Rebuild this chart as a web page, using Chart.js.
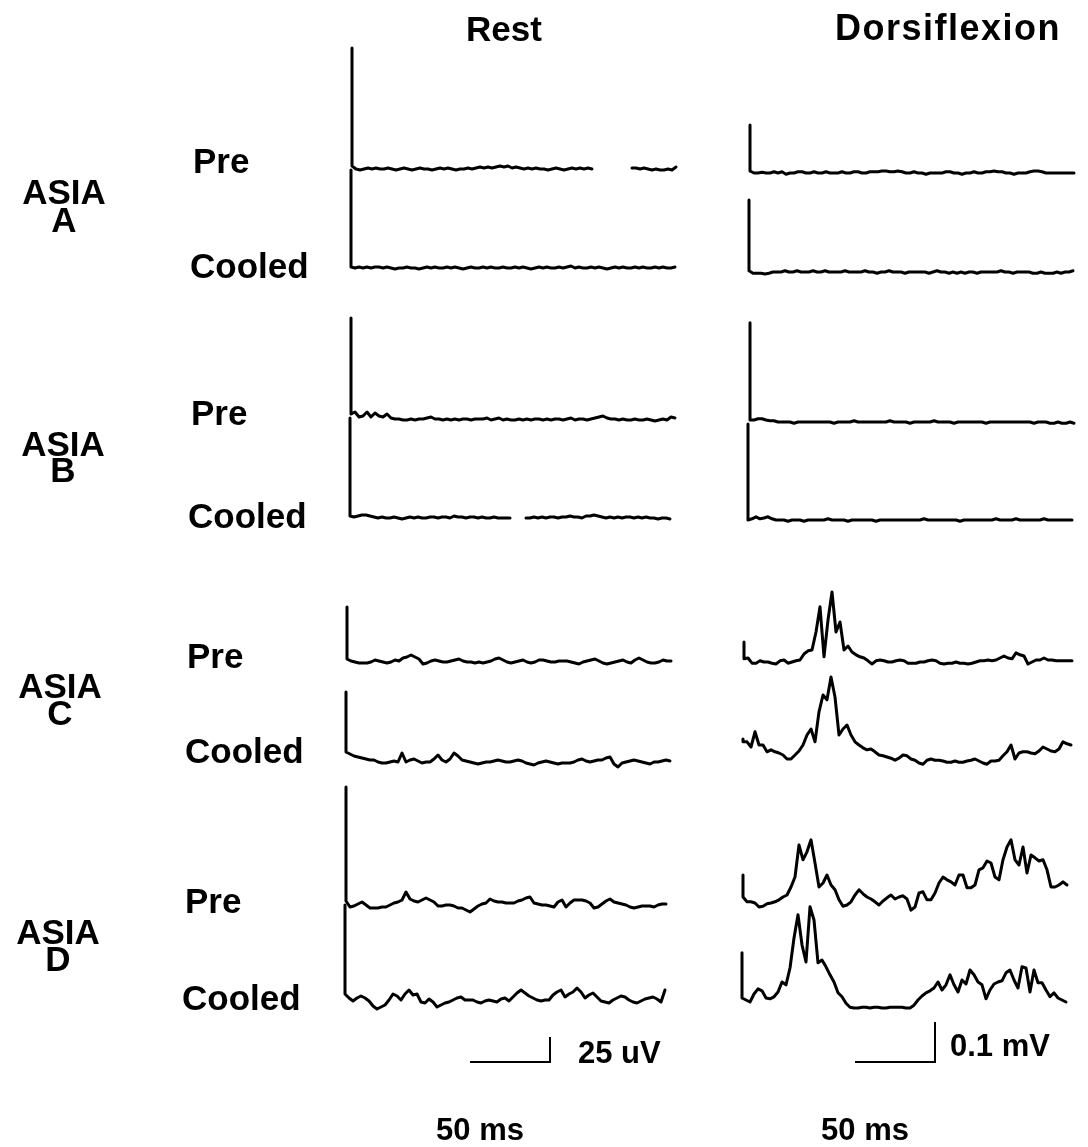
<!DOCTYPE html>
<html>
<head>
<meta charset="utf-8">
<script src="https://cdn.jsdelivr.net/npm/chart.js@4.4.1/dist/chart.umd.min.js"></script>
<style>
  html, body { margin: 0; padding: 0; background: #fff; }
  #wrap { position: relative; width: 1088px; height: 1147px; overflow: hidden; }
  #chart { position: absolute; left: 0; top: 0; }
  .lb { position: absolute; font-family: "Liberation Sans", Arial, sans-serif; font-size: 35px; font-weight: bold;
        line-height: 1; color: #000; white-space: nowrap; transform: translate(0, -50%); }
  .c { transform: translate(-50%, -50%); text-align: center; }
</style>
</head>
<body>
<div id="wrap">
  <canvas id="chart" width="1088" height="1147"></canvas>

  <div class="lb c" style="left:504px;top:28px">Rest</div>
  <div class="lb c" style="left:948px;top:28px;font-size:36px;letter-spacing:1.5px">Dorsiflexion</div>

  <div class="lb c" style="left:64px;top:191px">ASIA</div>
  <div class="lb c" style="left:64px;top:219px">A</div>
  <div class="lb c" style="left:63px;top:443px">ASIA</div>
  <div class="lb c" style="left:63px;top:469px">B</div>
  <div class="lb c" style="left:60px;top:685px">ASIA</div>
  <div class="lb c" style="left:60px;top:712px">C</div>
  <div class="lb c" style="left:58px;top:931px">ASIA</div>
  <div class="lb c" style="left:58px;top:958px">D</div>

  <div class="lb" style="left:193px;top:160px">Pre</div>
  <div class="lb" style="left:190px;top:265px">Cooled</div>
  <div class="lb" style="left:191px;top:412px">Pre</div>
  <div class="lb" style="left:188px;top:515px">Cooled</div>
  <div class="lb" style="left:187px;top:655px">Pre</div>
  <div class="lb" style="left:185px;top:750px">Cooled</div>
  <div class="lb" style="left:185px;top:900px">Pre</div>
  <div class="lb" style="left:182px;top:997px">Cooled</div>

  <div class="lb" style="left:578px;top:1052px;font-size:31px">25 uV</div>
  <div class="lb c" style="left:480px;top:1129px;font-size:31px">50 ms</div>
  <div class="lb" style="left:950px;top:1045px;font-size:31px">0.1 mV</div>
  <div class="lb c" style="left:865px;top:1129px;font-size:31px">50 ms</div>
</div>

<script>
// ===== sweep data (uV, up = positive) =====
// first value = stimulus artifact peak at onset, then one value every 2.5 ms
const dt = 2.5;

// Rest column (25 uV scale)
const restAPre = [121, 3, 0, -1, 0, 1, 0, 1, 0, 0,
  1, 0, -1, 0, 1, 0, -1, 0, 1, 0, 0, -1, 0, 1, 0, 1, 0, -1, 0, 0,
  1, 0, 1, 2, 1, 2, 1, 2, 3, 2, 3, 1, 2, 1, 0, 1, 0, 1, 0, 0,
  -1, 0, 1, 0, -1, 0, 1, 0, 1, 0, 1, 0, null, null, null, null, null, null, null, null,
  null, 1, 1, 0, 1, 0, -1, 0, -1, -1, 0, -1, 2];
const restACooled = [98, 1, 0, 1, 0, 1, 0, 1, 1, 0,
  1, 0, -1, 0, 0, 1, 0, 0, -1, 0, 1, 0, 1, 0, 0, 1, 0, 1, 0, -1,
  0, 1, 0, 0, 1, 0, 1, 0, 0, 1, 0, 0, 1, 0, 1, 0, -1, 0, 1, 0,
  1, 0, 0, 1, 0, 1, 2, 0, 1, 0, 0, 1, 0, 1, 0, -1, 0, 1, 0, 1,
  0, 0, 1, 0, 1, 0, 0, 1, 0, 1, 0, 0, 1];
const restBPre = [102, 6, 8, 3, 4, 8, 3, 7, 4, 3,
  6, 2, 1, 1, 0, 0, 1, 0, 1, 1, 2, 3, 1, 1, 0, 1, 0, 1, 0, 1,
  1, 0, 1, 1, 1, 2, 0, 1, 2, 0, 1, 0, 0, 1, 0, 1, 0, 1, 1, 0,
  1, 0, 1, 1, 0, 1, 2, 0, 1, 1, 0, 1, 2, 3, 4, 2, 1, 1, 0, 1,
  0, 0, 1, 0, 0, 1, 0, -1, 0, 1, 0, 3, 2];
const restBCooled = [100, 2, 1, 2, 3, 3, 2, 1, 0, 1,
  0, 0, 1, 0, -1, 0, 1, 0, 1, 0, 0, 1, 1, 0, 1, 1, 0, 2, 1, 1,
  0, 1, 1, 0, 1, 0, 0, 1, 0, 0, 0, 0, null, null, null, 0, 0, 1, 0, 1,
  0, 1, 1, 0, 1, 1, 2, 1, 1, 0, 2, 2, 3, 2, 1, 0, 1, 0, 1, 0,
  1, 1, 0, 1, 0, 1, 0, 0, -1, 0, 0, -1];
const restCPre = [55, 3, 1, 0, -1, -1, -1, 0, 2, 1,
  0, -1, 0, 2, 1, 4, 5, 7, 5, 3, -2, -1, 1, 2, 1, 0, 0, 1, 2, 3,
  1, 0, 0, -1, 0, -1, 0, 1, 3, 4, 2, 0, -1, 0, 1, 2, 0, -1, 0, 2,
  2, 1, 0, 0, 1, 1, 1, 0, -1, -2, 0, 1, 2, 3, 1, -1, -2, -1, 0, 1,
  2, 0, -1, 2, 4, 2, 0, -1, -1, 0, 2, 1, 1];
const restCCooled = [70, 10, 8, 6, 5, 4, 3, 2, 2, 0,
  -1, -1, 0, 1, 0, 9, 0, 2, 3, 1, -1, 0, 0, 3, 7, 2, 0, 3, 9, 6,
  2, 1, 0, -1, -2, -1, 0, 0, 1, 2, 1, 0, 0, 1, 2, 1, -1, -2, -3, -1,
  0, 1, 0, -1, -2, -1, -1, -1, 0, 2, 3, 1, 0, 1, 2, 2, 4, 5, -2, -5,
  -1, 0, 1, 2, 1, 0, -1, -2, 0, 0, 1, 2, 1];
const restDPre = [118, 4, -2, -1, 1, 3, 0, -3, -3, -3,
  -2, -2, 0, 2, 3, 5, 13, 6, 4, 3, 5, 7, 5, 3, -1, -1, 0, 0, -1, -3,
  -3, -5, -7, -4, -1, 1, 2, 6, 4, 3, 3, 2, 2, 2, 4, 5, 7, 8, 2, 1,
  0, 0, -1, -2, 3, 5, -2, 2, 5, 5, 5, 4, 2, -3, -2, 1, 4, 6, 3, 2,
  1, 0, -2, -3, -2, -1, -1, -1, -2, 0, 1, 1];
const restDCooled = [95, 6, 2, -1, 2, 4, 2, -1, -6, -9,
  -7, -5, 0, 6, 4, 0, 6, 10, 5, 6, -2, -3, 1, -2, -7, -5, -3, -2, 0, 2,
  3, 0, 0, 0, -2, -3, -1, 0, -1, -2, 1, 2, -1, 3, 7, 10, 7, 4, 2, 0,
  -1, 0, 0, 5, 8, 10, 3, 6, 8, 12, 8, 2, 5, 7, 3, -1, -2, -3, 0, 2,
  4, 3, 0, -2, -3, -1, 1, 2, 3, 1, -2, 10];

// Dorsiflexion column (0.1 mV scale)
const dorsAPre = [120, 5, 0, 0, 2, 0, 0, 3, 0, 3,
  -3, 0, 0, 3, 3, 0, 0, 3, 0, 0, 3, 0, 0, 0, 3, 0, 0, 3, 3, 0,
  0, 3, 3, 3, 5, 5, 3, 3, 5, 3, 0, 0, 3, 0, 0, -3, 0, 0, 0, 0,
  3, 3, 0, 0, -3, 0, 0, 3, 0, 0, 3, 3, 5, 3, 3, 0, 0, -3, 0, 0,
  0, 3, 5, 5, 3, 0, 0, 0, 0, 0, 0, 0, 0];
const dorsACooled = [180, 3, -3, -3, -3, -5, -3, 0, 0, 0,
  3, 0, 0, 3, 0, 0, 0, 3, 0, 0, 3, 0, 0, 0, 0, 3, 0, 0, 0, 0,
  3, 0, 0, -3, 0, 0, 3, 0, 0, 0, -3, 0, 0, 0, 0, 0, -3, 0, 3, 0,
  0, -3, 0, -3, 0, -3, 0, 0, -3, 0, 0, 0, 0, 0, 3, 0, 0, -3, 0, 0,
  0, 0, -3, -3, 0, -3, -3, -3, 0, -3, 0, 0, 3];
const dorsBPre = [248, 5, 5, 8, 8, 5, 3, 3, 0, 0,
  0, 0, -3, 0, 0, 0, 0, 0, 0, 0, 0, 0, -3, 0, 0, 0, 0, 3, 0, 0,
  0, 0, 0, 0, 0, 0, 3, 0, 0, 0, 0, -3, 0, 0, 0, 0, 0, 3, 0, 0,
  0, 0, -3, 0, 0, 0, 0, 0, 0, 0, -3, 0, 0, 0, 0, 0, 0, 0, 0, 0,
  0, 0, -3, 0, 0, 0, -3, -3, 0, -3, -3, 0, -3];
const dorsBCooled = [240, 0, 3, 8, 3, 5, 8, 3, 0, 0,
  0, -3, 0, 0, 0, -3, 0, 0, 0, 0, 0, 3, 0, 0, 0, 0, -3, 0, 0, 0,
  0, 0, 0, -3, 0, 0, 0, 0, 0, 0, 0, 0, 0, 0, 0, 3, 0, 0, 0, 0,
  0, 0, 0, 0, -3, 0, 0, 0, 0, 0, 0, 0, 0, 3, 0, 0, 0, 0, 3, 0,
  0, 0, 0, 0, 0, 3, 0, 0, 0, 0, 0, 0, 0];
const dorsCPre = [50, 8, 10, -3, -3, 3, 0, 0, -3, -5,
  3, 5, -3, 0, 3, 5, 20, 28, 30, 75, 138, 13, 105, 175, 75, 100, 30, 40, 25, 18,
  13, 10, 3, -5, 3, 5, 3, 0, 0, 3, 5, 3, -3, -3, -3, 0, 0, 3, 5, 3,
  -3, -5, -3, -3, 0, -3, -3, -5, -3, 0, 3, 3, 5, 3, 5, 10, 15, 10, 8, 23,
  18, 15, -5, 0, 5, 5, 10, 5, 5, 3, 3, 3, 3, 3];
const dorsCCooled = [45, 38, 38, 25, 63, 30, 30, 13, 18, 13,
  10, 5, -5, -5, 5, 15, 30, 55, 70, 38, 113, 155, 143, 200, 150, 55, 70, 80, 55, 38,
  30, 23, 18, 20, 13, 5, 3, 0, -3, -8, -3, 5, 3, -5, -8, -15, -18, -8, -5, -8,
  -8, -10, -13, -13, -10, -13, -13, -10, -8, -5, -10, -15, -18, -10, -10, -8, 3, 13, 30, -5,
  10, 13, 13, 10, 8, 15, 25, 20, 15, 13, 20, 38, 33, 30];
const dorsDPre = [75, 20, 8, 8, 5, -5, -3, 3, 5, 8,
  13, 20, 25, 45, 70, 150, 113, 133, 163, 105, 45, 55, 75, 50, 38, 13, -3, 0, 8, 25,
  38, 28, 20, 15, 8, 0, 10, 18, 25, 15, 20, 23, 15, -13, -5, 30, 33, 13, 13, 30,
  55, 70, 63, 58, 50, 75, 75, 43, 43, 50, 88, 93, 110, 105, 70, 63, 113, 145, 163, 113,
  100, 145, 80, 125, 118, 110, 113, 88, 45, 45, 50, 58, 50];
const dorsDCooled = [118, 5, 0, -5, 15, 28, 23, 5, 3, 8,
  20, 45, 38, 80, 155, 213, 138, 95, 233, 200, 93, 100, 83, 63, 45, 18, 8, -8, -18, -20,
  -20, -18, -18, -20, -18, -18, -20, -20, -18, -18, -18, -18, -20, -20, -13, 0, 10, 18, 23, 30,
  45, 25, 38, 63, 38, 20, 50, 40, 75, 63, 45, 38, 3, 25, 40, 45, 48, 68, 75, 50,
  30, 83, 80, 20, 75, 43, 43, 25, 8, 18, 5, 0, -5];

// calibration bars
const barTime = 50;       // ms
const barRest = 25;       // uV
const barDors = 100;      // uV (0.1 mV)

// ===== layout (page pixels) =====
const W = 1088, H = 1147;
const pxPerMs = 1.6;
const restPxPerUV = 1.0;
const dorsPxPerUV = 0.4;
const restColPx = 349, dorsColPx = 747;

// start = onset x, base = baseline y
const traces = [
  { data: restAPre, col: "rest", start: 352, base: 169 },
  { data: restACooled, col: "rest", start: 351, base: 268 },
  { data: restBPre, col: "rest", start: 351, base: 420 },
  { data: restBCooled, col: "rest", start: 350, base: 518 },
  { data: restCPre, col: "rest", start: 347, base: 662 },
  { data: restCCooled, col: "rest", start: 346, base: 762 },
  { data: restDPre, col: "rest", start: 346, base: 905 },
  { data: restDCooled, col: "rest", start: 345, base: 1000 },
  { data: dorsAPre, col: "dors", start: 750, base: 173 },
  { data: dorsACooled, col: "dors", start: 749, base: 272 },
  { data: dorsBPre, col: "dors", start: 750, base: 422 },
  { data: dorsBCooled, col: "dors", start: 748, base: 520 },
  { data: dorsCPre, col: "dors", start: 744, base: 662 },
  { data: dorsCCooled, col: "dors", start: 743, base: 757 },
  { data: dorsDPre, col: "dors", start: 743, base: 905 },
  { data: dorsDCooled, col: "dors", start: 742, base: 1000 },
];

function gain(col) { return col === "rest" ? restPxPerUV : dorsPxPerUV; }
function colPx(col) { return col === "rest" ? restColPx : dorsColPx; }

const datasets = traces.map((tr) => {
  const yOff = -tr.base / gain(tr.col);
  const tOff = (tr.start - colPx(tr.col)) / pxPerMs;
  return {
    data: tr.data.map((v, i) => ({
      x: tOff + (i === 0 ? 0 : (i - 1) * dt),
      y: v === null ? null : yOff + v,
    })),
    xAxisID: tr.col === "rest" ? "xRest" : "xDors",
    yAxisID: tr.col === "rest" ? "yRest" : "yDors",
    borderColor: "#000", borderWidth: 3, pointRadius: 0, tension: 0,
    spanGaps: false, borderJoinStyle: "round", borderCapStyle: "round",
  };
});

// scale bars
function bar(col, startPx, basePx, amp) {
  const t0 = (startPx - colPx(col)) / pxPerMs;
  const y0 = -basePx / gain(col);
  return {
    data: [{ x: t0, y: y0 }, { x: t0 + barTime, y: y0 }, { x: t0 + barTime, y: y0 + amp }],
    xAxisID: col === "rest" ? "xRest" : "xDors",
    yAxisID: col === "rest" ? "yRest" : "yDors",
    borderColor: "#000", borderWidth: 2, pointRadius: 0, tension: 0,
  };
}
datasets.push(bar("rest", 470, 1062, barRest));
datasets.push(bar("dors", 855, 1062, barDors));

const hidden = { display: false, grid: { display: false } };
new Chart(document.getElementById("chart"), {
  type: "line",
  data: { datasets },
  options: {
    responsive: false, animation: false, devicePixelRatio: 1,
    layout: { padding: 0 },
    plugins: { legend: { display: false }, tooltip: { enabled: false } },
    scales: {
      xRest: { ...hidden, type: "linear", position: "bottom", min: -restColPx / pxPerMs, max: (W - restColPx) / pxPerMs },
      xDors: { ...hidden, type: "linear", position: "bottom", min: -dorsColPx / pxPerMs, max: (W - dorsColPx) / pxPerMs },
      yRest: { ...hidden, type: "linear", position: "left", min: -H / restPxPerUV, max: 0 },
      yDors: { ...hidden, type: "linear", position: "left", min: -H / dorsPxPerUV, max: 0 },
    },
  },
});
</script>
</body>
</html>
